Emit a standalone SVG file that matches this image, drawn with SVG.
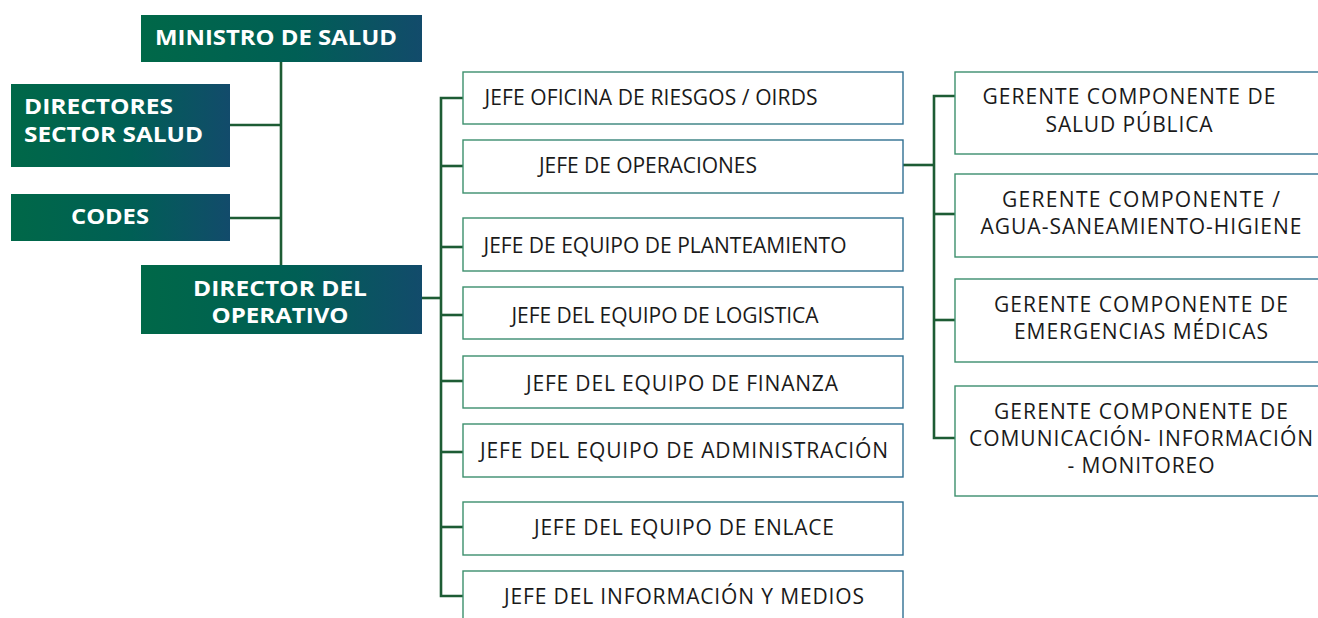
<svg xmlns="http://www.w3.org/2000/svg" width="1318" height="618" viewBox="0 0 1318 618">
<defs>
<linearGradient id="gfill" x1="0" y1="0" x2="1" y2="0">
<stop offset="0" stop-color="#006848"/>
<stop offset="0.55" stop-color="#005f55"/>
<stop offset="1" stop-color="#124b6b"/>
</linearGradient>
<linearGradient id="gstroke" x1="0" y1="0" x2="1" y2="0">
<stop offset="0" stop-color="#3c8f6c"/>
<stop offset="1" stop-color="#2f6f92"/>
</linearGradient>
<style>
.dark rect{fill:url(#gfill);}
.dark text{fill:#ffffff;font-family:"Open Sans","Liberation Sans",sans-serif;font-weight:700;font-size:21.5px;}
.light rect{fill:#ffffff;stroke:url(#gstroke);stroke-width:1.4;}
.light text{fill:#1a1a1a;font-family:"Open Sans","Liberation Sans",sans-serif;font-size:21px;text-anchor:middle;}
.conn{fill:none;stroke:#1d5c34;stroke-width:2.6;}
</style>
</defs>
<rect width="1318" height="618" fill="#ffffff"/>
<g id="connectors" class="conn">
<path d="M281 62 V265"/>
<path d="M230 125 H281"/>
<path d="M230 218 H281"/>
<path d="M422 298 H441"/>
<path d="M463 98 H441 V596 H463"/>
<path d="M441 166 H463"/>
<path d="M441 247 H463"/>
<path d="M441 315 H466"/>
<path d="M441 381 H463"/>
<path d="M441 452 H463"/>
<path d="M441 527 H463"/>
<path d="M903 165 H934"/>
<path d="M955 96 H934 V438 H955"/>
<path d="M934 214 H955"/>
<path d="M934 320 H955"/>
</g>
<g id="n-ministro" class="dark"><rect x="141" y="15" width="281" height="47"/><text x="276" y="45" text-anchor="middle" textLength="242" lengthAdjust="spacingAndGlyphs">MINISTRO DE SALUD</text></g>
<g id="n-directores" class="dark"><rect x="11" y="84" width="219" height="83"/><text x="24" y="114" textLength="149" lengthAdjust="spacingAndGlyphs">DIRECTORES</text><text x="24" y="142" textLength="179" lengthAdjust="spacingAndGlyphs">SECTOR SALUD</text></g>
<g id="n-codes" class="dark"><rect x="11" y="194" width="219" height="47"/><text x="110" y="224" text-anchor="middle" textLength="78" lengthAdjust="spacingAndGlyphs">CODES</text></g>
<g id="n-director" class="dark"><rect x="141" y="265" width="281" height="69"/><text x="280" y="296" text-anchor="middle" textLength="174" lengthAdjust="spacingAndGlyphs">DIRECTOR DEL</text><text x="280" y="323" text-anchor="middle" textLength="137" lengthAdjust="spacingAndGlyphs">OPERATIVO</text></g>
<g id="n-riesgos" class="light"><rect x="463" y="72" width="440" height="52"/><text x="651" y="105" textLength="333">JEFE OFICINA DE RIESGOS / OIRDS</text></g>
<g id="n-operaciones" class="light"><rect x="463" y="140" width="440" height="53"/><text x="648" y="173" textLength="218">JEFE DE OPERACIONES</text></g>
<g id="n-planteamiento" class="light"><rect x="463" y="218" width="440" height="53"/><text x="665" y="253" textLength="363">JEFE DE EQUIPO DE PLANTEAMIENTO</text></g>
<g id="n-logistica" class="light"><rect x="463" y="287" width="440" height="52"/><text x="665" y="323" textLength="307">JEFE DEL EQUIPO DE LOGISTICA</text></g>
<g id="n-finanza" class="light"><rect x="463" y="356" width="440" height="52"/><text x="682" y="391" textLength="312">JEFE DEL EQUIPO DE FINANZA</text></g>
<g id="n-administracion" class="light"><rect x="463" y="424" width="440" height="53"/><text x="684" y="458" textLength="408">JEFE DEL EQUIPO DE ADMINISTRACIÓN</text></g>
<g id="n-enlace" class="light"><rect x="463" y="502" width="440" height="53"/><text x="684" y="535" textLength="300">JEFE DEL EQUIPO DE ENLACE</text></g>
<g id="n-medios" class="light"><rect x="463" y="571" width="440" height="60"/><text x="684" y="604" textLength="360">JEFE DEL INFORMACIÓN Y MEDIOS</text></g>
<g id="n-salud-publica" class="light"><rect x="955" y="72" width="380" height="82"/><text x="1129" y="104" textLength="293">GERENTE COMPONENTE DE</text><text x="1129" y="132" textLength="167">SALUD PÚBLICA</text></g>
<g id="n-agua" class="light"><rect x="955" y="174" width="380" height="83"/><text x="1141" y="207" textLength="278">GERENTE COMPONENTE /</text><text x="1141" y="234" textLength="321">AGUA-SANEAMIENTO-HIGIENE</text></g>
<g id="n-emergencias" class="light"><rect x="955" y="279" width="380" height="83"/><text x="1141" y="312" textLength="294">GERENTE COMPONENTE DE</text><text x="1141" y="339" textLength="254">EMERGENCIAS MÉDICAS</text></g>
<g id="n-comunicacion" class="light"><rect x="955" y="386" width="380" height="110"/><text x="1141" y="419" textLength="294">GERENTE COMPONENTE DE</text><text x="1141" y="446" textLength="344">COMUNICACIÓN- INFORMACIÓN</text><text x="1141" y="473" textLength="147">- MONITOREO</text></g>
</svg>
